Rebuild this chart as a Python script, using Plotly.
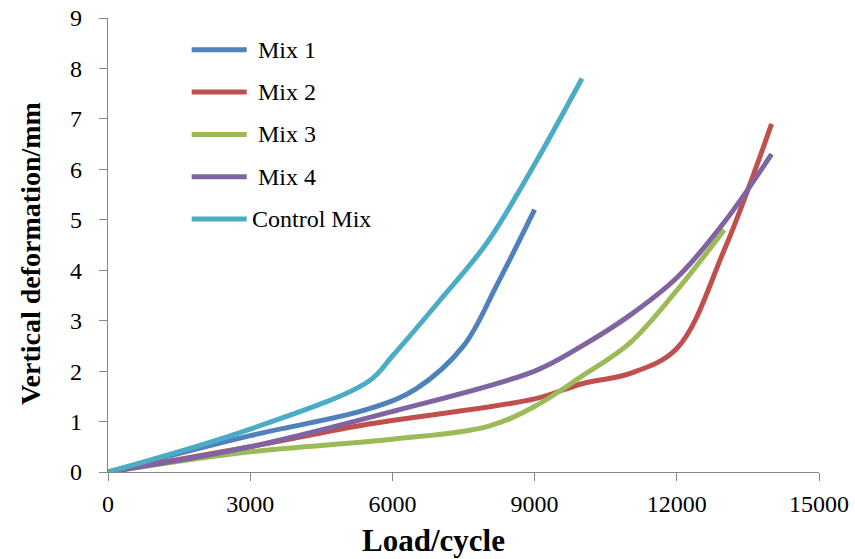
import plotly.graph_objects as go

# Load cycles and vertical deformation (mm) for each mix
mix1_x = [0, 3000, 5500, 6500, 7500, 8200, 9000]
mix1_y = [0, 0.72, 1.25, 1.65, 2.5, 3.7, 5.2]

mix2_x = [0, 3000, 5500, 9000, 10000, 11000, 12000, 13000, 14000]
mix2_y = [0, 0.5, 0.95, 1.45, 1.75, 1.95, 2.45, 4.4, 6.9]

mix3_x = [0, 3000, 6000, 8000, 9000, 10000, 11000, 12000, 13000]
mix3_y = [0, 0.4, 0.65, 0.9, 1.3, 1.9, 2.55, 3.6, 4.8]

mix4_x = [0, 3000, 6000, 9000, 10000, 11000, 12000, 13000, 14000]
mix4_y = [0, 0.5, 1.2, 2.0, 2.5, 3.1, 3.85, 4.95, 6.3]

ctrl_x = [0, 3000, 5500, 6000, 7000, 8000, 9000, 10000]
ctrl_y = [0, 0.85, 1.8, 2.3, 3.4, 4.55, 6.1, 7.8]

names = ["Mix 1", "Mix 2", "Mix 3", "Mix 4", "Control Mix"]
colors = ["#4F81BD", "#C0504D", "#9BBB59", "#8064A2", "#4BACC6"]
xs = [mix1_x, mix2_x, mix3_x, mix4_x, ctrl_x]
ys = [mix1_y, mix2_y, mix3_y, mix4_y, ctrl_y]

x_ticks = [0, 3000, 6000, 9000, 12000, 15000]
y_ticks = list(range(0, 10))

serif = "Times New Roman, Liberation Serif, serif"
axis_grey = "#868686"

fig = go.Figure()
for name, color, x, y in zip(names, colors, xs, ys):
    fig.add_trace(go.Scatter(
        x=x, y=y, name=name, mode="lines",
        line=dict(color=color, width=5, shape="spline", smoothing=1.0),
        showlegend=False,
    ))

# Legend drawn as line samples with labels inside the plot area
legend_top = 0.930
legend_step = 0.0932
for i, (name, color) in enumerate(zip(names, colors)):
    yy = legend_top - i * legend_step
    fig.add_shape(type="line", xref="paper", yref="paper",
                  x0=0.1177, x1=0.1951, y0=yy, y1=yy,
                  line=dict(color=color, width=5))
    fig.add_annotation(xref="paper", yref="paper",
                       x=0.2 if name == "Control Mix" else 0.208, y=yy,
                       text=name, showarrow=False, xanchor="left", yanchor="middle",
                       font=dict(family=serif, size=24, color="black"))

# Axis titles
fig.add_annotation(xref="paper", yref="paper", x=0.4585, y=-0.1506,
                   text="<b>Load/cycle</b>", showarrow=False,
                   xanchor="center", yanchor="middle",
                   font=dict(family=serif, size=31, color="black"))
fig.add_annotation(xref="paper", yref="paper", x=-0.1097, y=0.48,
                   text="<b>Vertical deformation/mm</b>", showarrow=False,
                   textangle=-90, xanchor="center", yanchor="middle",
                   font=dict(family=serif, size=28, color="black"))

fig.update_xaxes(
    range=[0, 15000], tickvals=x_ticks, ticktext=[str(v) for v in x_ticks],
    showgrid=False, zeroline=False, showline=True, linecolor=axis_grey, linewidth=1.3,
    ticks="outside", ticklen=8, tickcolor=axis_grey, tickwidth=1.3,
    tickfont=dict(family=serif, size=24, color="black"), ticklabelstandoff=2,
    automargin=False,
)
fig.update_yaxes(
    range=[0, 9], tickvals=y_ticks, ticktext=[str(v) for v in y_ticks],
    showgrid=False, zeroline=False, showline=True, linecolor=axis_grey, linewidth=1.3,
    ticks="outside", ticklen=8, tickcolor=axis_grey, tickwidth=1.3,
    tickfont=dict(family=serif, size=24, color="black"), ticklabelstandoff=12,
    automargin=False,
)

fig.update_layout(
    width=855, height=559,
    margin=dict(l=108, r=36, t=18, b=87),
    paper_bgcolor="white", plot_bgcolor="white",
    showlegend=False,
)

fig.write_html("out.html")
